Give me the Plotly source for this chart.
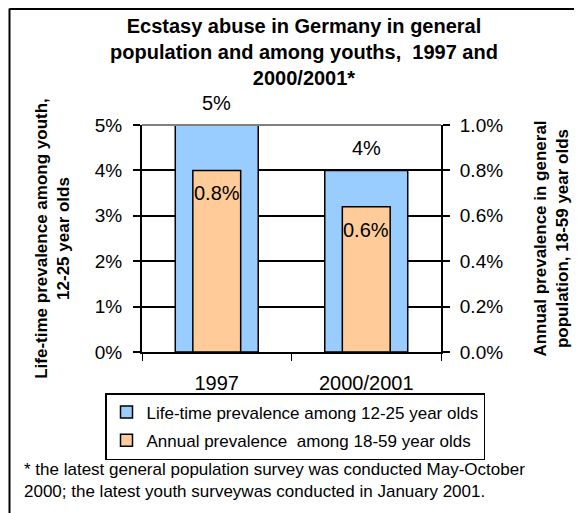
import plotly.graph_objects as go

# data
years = ["1997", "2000/2001"]
youth_lifetime = [0.05, 0.04]      # life-time prevalence, 12-25 year olds
adult_annual = [0.008, 0.0064]     # annual prevalence, 18-59 year olds
adult_labels = ["0.8%", "0.6%"]

# the page puts the figure 8px in from the window corner
OFF = 8
W, H = 582 - OFF, 513 - OFF
# plot area in window pixels: x 142..441, y 125..352
PX0, PX1, PY0, PY1 = 142, 441, 125, 352
L, R, T, B = PX0 - OFF, W - (PX1 - OFF), PY0 - OFF, H - (PY1 - OFF)


def px(x):
    return (x - PX0) / (PX1 - PX0)


def py(y):
    return (PY1 - y) / (PY1 - PY0)


FONT = "Arial, Liberation Sans, sans-serif"

fig = go.Figure()

fig.add_trace(go.Bar(
    x=years, y=youth_lifetime, yaxis="y",
    name="Life-time prevalence among 12-25 year olds",
    marker=dict(color="#99CCFF", line=dict(color="black", width=1.5)),
    width=0.555, legendgroup="a",
))
fig.add_trace(go.Bar(
    x=years, y=adult_annual, yaxis="y2",
    name="Annual prevalence  among 18-59 year olds",
    marker=dict(color="#FFCC99", line=dict(color="black", width=1.5)),
    width=0.32, legendgroup="b",
))

annotations = []
for i, v in enumerate(youth_lifetime):
    annotations.append(dict(x=i, y=v, xref="x", yref="y", text=f"{v:.0%}",
                            showarrow=False, yshift=22,
                            font=dict(size=20, color="black")))
for i, (v, lab) in enumerate(zip(adult_annual, adult_labels)):
    annotations.append(dict(x=i, y=v, xref="x", yref="y2", text=lab,
                            showarrow=False, yshift=-23,
                            font=dict(size=20, color="black")))

annotations.append(dict(
    x=px(22), y=py(458), xref="paper", yref="paper",
    xanchor="left", yanchor="top", align="left", showarrow=False,
    text="* the latest general population survey was conducted May-October<br>"
         "2000; the latest youth surveywas conducted in January 2001.",
    font=dict(size=17, color="black"),
))

fig.update_layout(
    width=W, height=H,
    margin=dict(l=L, r=R, t=T, b=B, autoexpand=False),
    paper_bgcolor="white", plot_bgcolor="white",
    font=dict(family=FONT, color="black"),
    barmode="overlay",
    title=dict(
        text="Ecstasy abuse in Germany in general<br>"
             "population and among youths,  1997 and<br>2000/2001*",
        x=px(304), xref="paper", xanchor="center",
        y=1 - 25 / H, yref="container", yanchor="top",
        font=dict(size=20, weight="bold", color="black"),
    ),
    xaxis=dict(
        type="category", categoryorder="array", categoryarray=years,
        range=[-0.5, 1.5], automargin=False,
        showline=True, linecolor="black", linewidth=1.5,
        ticks="outside", tickson="boundaries", ticklen=7, tickcolor="black",
        tickfont=dict(size=20), showgrid=False, tickangle=0,
        ticklabelstandoff=12,
    ),
    yaxis=dict(
        range=[0, 0.05], dtick=0.01, tickformat=".0%", automargin=False,
        showline=True, linecolor="black", linewidth=2,
        ticks="outside", ticklen=7, tickcolor="black", tickwidth=1.5,
        showgrid=True, gridcolor="black", gridwidth=1.5, zeroline=False,
        tickfont=dict(size=19), ticklabelstandoff=7,
        title=dict(text="Life-time prevalence among youth,<br>12-25 year olds",
                   font=dict(size=17, weight="bold"), standoff=21),
    ),
    yaxis2=dict(
        range=[0, 0.01], dtick=0.002, tickformat=".1%", automargin=False,
        overlaying="y", side="right",
        showline=True, linecolor="black", linewidth=2,
        ticks="outside", ticklen=7, tickcolor="black", tickwidth=1.5,
        showgrid=False, zeroline=False,
        tickfont=dict(size=19), ticklabelstandoff=6,
        title=dict(text="Annual prevalence in general<br>population, 18-59 year olds",
                   font=dict(size=17, weight="bold"), standoff=32),
    ),
    legend=dict(
        x=px(105), y=py(393), xanchor="left", yanchor="top",
        bordercolor="black", borderwidth=1.5, bgcolor="white",
        font=dict(size=17), traceorder="grouped", tracegroupgap=3,
        itemwidth=30,
    ),
    annotations=annotations,
    shapes=[
        # plot area top border
        dict(type="line", xref="paper", yref="paper", x0=0, x1=1, y0=1, y1=1,
             line=dict(color="#808080", width=2), layer="above"),
        # chart frame (left and top edges)
        dict(type="line", xref="paper", yref="paper",
             x0=px(9.5), x1=px(9.5), y0=py(8.5), y1=py(530),
             line=dict(color="black", width=2)),
        dict(type="line", xref="paper", yref="paper",
             x0=px(9.5), x1=px(600), y0=py(9), y1=py(9),
             line=dict(color="black", width=2)),
    ],
)

fig.write_html("out.html")
